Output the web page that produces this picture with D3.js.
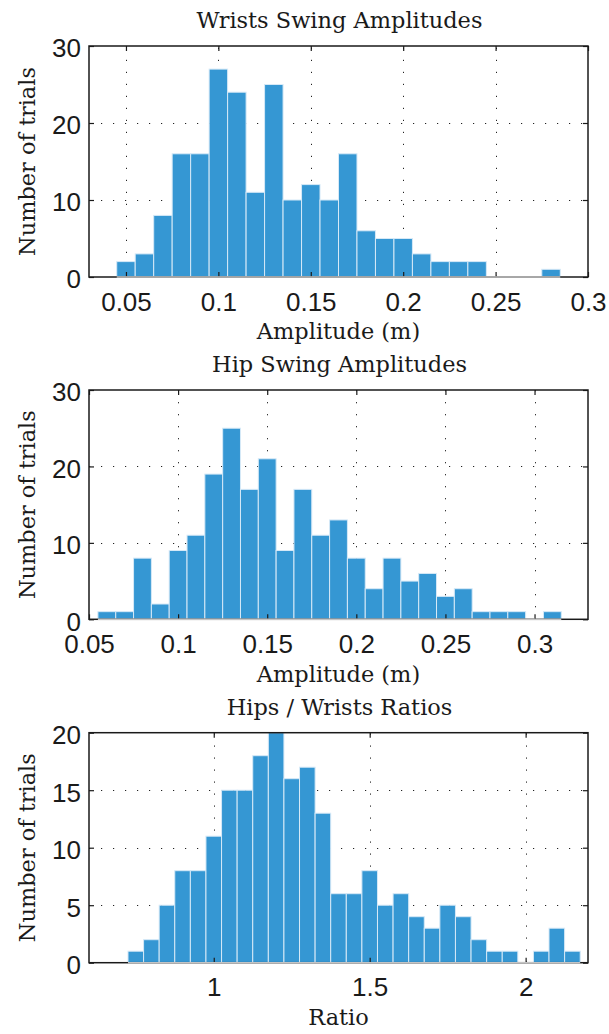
<!DOCTYPE html>
<html>
<head>
<meta charset="utf-8">
<script src="https://cdn.jsdelivr.net/npm/d3@7"></script>
<style>
  html, body { margin: 0; padding: 0; background: #fff; }
  svg { display: block; }
</style>
</head>
<body>
<svg id="chart" width="609" height="1034"></svg>
<script>
// ---------- DATA ----------
const wristCenters = [0.05,0.06,0.07,0.08,0.09,0.10,0.11,0.12,0.13,0.14,0.15,0.16,0.17,0.18,0.19,0.20,0.21,0.22,0.23,0.24,0.25,0.26,0.27,0.28];
const wristCounts  = [2,3,8,16,16,27,24,11,25,10,12,10,16,6,5,5,3,2,2,2,0,0,0,1];
const wristBinWidth = 0.01;
const wristXDomain = [0.03, 0.3];
const wristXTicks = [0.05,0.1,0.15,0.2,0.25,0.3];
const wristYTicks = [0,10,20,30];

const hipCenters = [0.06,0.07,0.08,0.09,0.10,0.11,0.12,0.13,0.14,0.15,0.16,0.17,0.18,0.19,0.20,0.21,0.22,0.23,0.24,0.25,0.26,0.27,0.28,0.29,0.30,0.31];
const hipCounts  = [1,1,8,2,9,11,19,25,17,21,9,17,11,13,8,4,8,5,6,3,4,1,1,1,0,1];
const hipBinWidth = 0.01;
const hipXDomain = [0.05, 0.33];
const hipXTicks = [0.05,0.1,0.15,0.2,0.25,0.3];
const hipYTicks = [0,10,20,30];

const ratioCenters = [0.75,0.80,0.85,0.90,0.95,1.00,1.05,1.10,1.15,1.20,1.25,1.30,1.35,1.40,1.45,1.50,1.55,1.60,1.65,1.70,1.75,1.80,1.85,1.90,1.95,2.00,2.05,2.10,2.15];
const ratioCounts  = [1,2,5,8,8,11,15,15,18,20,16,17,13,6,6,8,5,6,4,3,5,4,2,1,1,0,1,3,1];
const ratioBinWidth = 0.05;
const ratioXDomain = [0.6, 2.2];
const ratioXTicks = [1,1.5,2];
const ratioYTicks = [0,5,10,15,20];

const titles = ["Wrists Swing Amplitudes", "Hip Swing Amplitudes", "Hips / Wrists Ratios"];
const xLabels = ["Amplitude (m)", "Amplitude (m)", "Ratio"];
const yLabel = "Number of trials";

// ---------- LAYOUT ----------
const svg = d3.select("#chart");
const left = 89, right = 588;
const panels = [
  {top: 46,    bottom: 277,   centers: wristCenters, counts: wristCounts, bw: wristBinWidth, xd: wristXDomain, xt: wristXTicks, yt: wristYTicks, title: titles[0], xl: xLabels[0]},
  {top: 390,   bottom: 619.3, centers: hipCenters,   counts: hipCounts,   bw: hipBinWidth,   xd: hipXDomain,   xt: hipXTicks,   yt: hipYTicks,   title: titles[1], xl: xLabels[1]},
  {top: 732.7, bottom: 962.7, centers: ratioCenters, counts: ratioCounts, bw: ratioBinWidth, xd: ratioXDomain, xt: ratioXTicks, yt: ratioYTicks, title: titles[2], xl: xLabels[2]}
];

const serif = "'DejaVu Serif', 'Liberation Serif', serif";
const sans = "'Liberation Sans', Arial, Helvetica, sans-serif";
const barFill = "#3597d3";
const barEdge = "#d6e9f7";
const tickLen = 5;
const serifSize = 23;

// horizontal squeeze so the first title is ~286px wide, as in the reference
const probe = svg.append("text").attr("font-family", serif).attr("font-size", serifSize).text(titles[0]);
const probeW = probe.node().getComputedTextLength() || 286;
probe.remove();
const sx = Math.max(0.7, Math.min(1.1, 286 / probeW));

function serifText(parent, transform, str) {
  parent.append("g").attr("transform", transform + ` scale(${sx},1)`)
    .append("text").attr("text-anchor", "middle")
    .attr("font-family", serif).attr("font-size", serifSize)
    .attr("fill", "#1a1a1a").text(str);
}

panels.forEach(p => {
  const g = svg.append("g");
  const x = d3.scaleLinear().domain(p.xd).range([left, right]);
  const ymax = p.yt[p.yt.length - 1];
  const y = d3.scaleLinear().domain([0, ymax]).range([p.bottom, p.top]);

  // grid (dotted)
  const grid = g.append("g").attr("stroke", "#222").attr("stroke-width", 1)
    .attr("stroke-dasharray", "1.2,10.8");
  grid.selectAll("line.vx").data(p.xt.filter(v => x(v) > left + 1 && x(v) < right - 1)).enter()
    .append("line")
    .attr("x1", d => Math.round(x(d)) + 0.5).attr("x2", d => Math.round(x(d)) + 0.5)
    .attr("y1", p.bottom).attr("y2", p.top);
  grid.selectAll("line.hy").data(p.yt.filter(v => v > 0 && v < ymax)).enter()
    .append("line")
    .attr("y1", d => Math.round(y(d)) + 0.5).attr("y2", d => Math.round(y(d)) + 0.5)
    .attr("x1", left).attr("x2", right);

  // bars
  const barData = p.centers.map((c, i) => ({c, n: p.counts[i]}));
  g.append("g").selectAll("rect").data(barData.filter(d => d.n > 0)).enter()
    .append("rect")
    .attr("x", d => x(d.c - p.bw / 2))
    .attr("width", d => x(d.c + p.bw / 2) - x(d.c - p.bw / 2))
    .attr("y", d => y(d.n))
    .attr("height", d => y(0) - y(d.n))
    .attr("fill", barFill)
    .attr("stroke", barEdge)
    .attr("stroke-width", 1);

  // axes (inward ticks)
  const fmt = d3.format("");
  const ax = d3.axisBottom(x).tickValues(p.xt).tickSize(-tickLen).tickFormat(fmt);
  const axG = g.append("g").attr("transform", `translate(0,${p.bottom})`).call(ax);
  axG.selectAll("text").attr("y", 33.7).attr("dy", null)
    .attr("font-family", sans).attr("font-size", 26).attr("fill", "#1a1a1a");
  const axT = d3.axisTop(x).tickValues(p.xt).tickSize(-tickLen).tickFormat("");
  const axTG = g.append("g").attr("transform", `translate(0,${p.top})`).call(axT);
  const ay = d3.axisLeft(y).tickValues(p.yt).tickSize(-tickLen).tickFormat(fmt);
  const ayG = g.append("g").attr("transform", `translate(${left},0)`).call(ay);
  ayG.selectAll("text").attr("x", -8).attr("dy", "0.42em")
    .attr("font-family", sans).attr("font-size", 26).attr("fill", "#1a1a1a");
  const ayR = d3.axisRight(y).tickValues(p.yt).tickSize(-tickLen).tickFormat("");
  const ayRG = g.append("g").attr("transform", `translate(${right},0)`).call(ayR);
  [axG, axTG, ayG, ayRG].forEach(a => {
    a.select(".domain").remove();
    a.selectAll(".tick line").attr("stroke", "#1a1a1a").attr("stroke-width", 1.2);
  });

  // box
  const first = p.centers[0] - p.bw / 2, last = p.centers[p.centers.length - 1] + p.bw / 2;
  g.append("rect").attr("x", left).attr("y", p.top)
    .attr("width", right - left).attr("height", p.bottom - p.top)
    .attr("fill", "none").attr("stroke", "#1a1a1a").attr("stroke-width", 1.5);
  // gray bar baseline
  g.append("line").attr("x1", x(first)).attr("x2", Math.min(right, x(last)))
    .attr("y1", p.bottom).attr("y2", p.bottom)
    .attr("stroke", "#c4c4c4").attr("stroke-width", 1.5);

  const cx = (left + right) / 2;
  serifText(g, `translate(${cx + 1},${p.top - 18})`, p.title);
  serifText(g, `translate(${cx},${p.bottom + 62.3})`, p.xl);
  serifText(g, `translate(35,${(p.top + p.bottom) / 2}) rotate(-90)`, yLabel);
});
</script>
</body>
</html>
